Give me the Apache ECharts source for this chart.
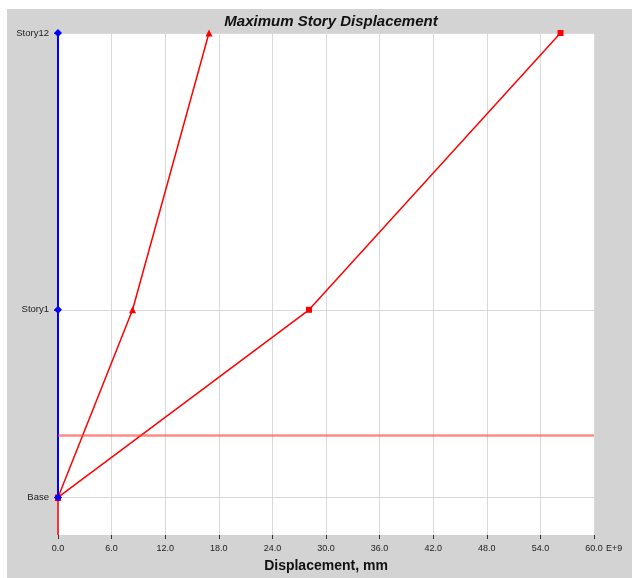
<!DOCTYPE html>
<html>
<head>
<meta charset="utf-8">
<script src="https://cdn.jsdelivr.net/npm/echarts@6/dist/echarts.min.js"></script>
<style>
html,body{margin:0;padding:0;background:#fff;}
#c{width:632px;height:578px;}
</style>
</head>
<body>
<div id="c"></div>
<script>
// Data
var storyNames = ['Base', 'Story1', 'Story12'];
var storyElev = [0, 4.0, 9.9];
var dispBlue = [0, 0, 0];
var dispTriangle = [0, 8.35, 16.9];
var dispSquare = [0, 28.1, 56.25];
var refLineElev = 1.32;
var xTicks = [0, 6, 12, 18, 24, 30, 36, 42, 48, 54, 60];

function pairs(xs) { return xs.map(function (x, i) { return [x, storyElev[i]]; }); }

var FONT = 'Liberation Sans, Arial, sans-serif';
var chart = echarts.init(document.getElementById('c'), null, {renderer: 'canvas'});
chart.setOption({
  animation: false,
  backgroundColor: '#ffffff',
  graphic: [
    {type: 'rect', z: -10, shape: {x: 7, y: 9, width: 625, height: 569}, style: {fill: '#d3d3d3'}},
    {type: 'text', z: 10, left: 606, top: 544, style: {text: 'E+9', font: '9px ' + FONT, fill: '#222'}}
  ],
  title: {
    text: 'Maximum Story Displacement',
    left: 326, top: 9, textAlign: 'center',
    textStyle: {fontFamily: FONT, fontSize: 15, fontWeight: 'bold', fontStyle: 'italic', color: '#111'}
  },
  grid: {left: 58, top: 33, right: 38, bottom: 43, show: true, backgroundColor: '#ffffff', borderWidth: 0,
    outerBoundsMode: 'none', containLabel: false},
  xAxis: {
    type: 'value', min: 0, max: 60, interval: 6,
    name: 'Displacement, mm', nameLocation: 'middle', nameGap: 24,
    nameTextStyle: {fontFamily: FONT, fontSize: 14, fontWeight: 'bold', color: '#111'},
    axisLine: {show: false, onZero: false},
    axisTick: {show: true, length: 4, inside: false, lineStyle: {color: '#333'}},
    axisLabel: {fontFamily: FONT, fontSize: 9, color: '#222', margin: 9,
      formatter: function (v) { return v.toFixed(1); }},
    splitLine: {show: true, lineStyle: {color: '#d9d9d9', width: 1}}
  },
  yAxis: {
    type: 'value', min: -0.8, max: 9.9,
    axisLine: {show: false, onZero: false},
    axisTick: {show: true, length: 4, customValues: storyElev, lineStyle: {color: '#333'}},
    axisLabel: {fontFamily: FONT, fontSize: 9.5, color: '#222', margin: 9, customValues: storyElev,
      formatter: function (v) { var i = storyElev.indexOf(v); return i >= 0 ? storyNames[i] : ''; }},
    splitLine: {show: true, lineStyle: {color: '#d9d9d9', width: 1}}
  },
  series: [
    {
      type: 'line', data: [[0, -0.8], [0, 0]], symbol: 'none',
      lineStyle: {color: '#ff0000', width: 1.5}, z: 2,
      markLine: {
        silent: true, symbol: 'none', label: {show: false},
        lineStyle: {color: 'rgba(255,60,60,0.6)', width: 2.5, type: 'solid'},
        data: [{yAxis: refLineElev}]
      }
    },
    {
      type: 'line', data: pairs(dispTriangle), symbol: 'triangle', symbolSize: 7,
      lineStyle: {color: '#ff0000', width: 1.5}, itemStyle: {color: '#ff0000'}, z: 3
    },
    {
      type: 'line', data: pairs(dispSquare), symbol: 'rect', symbolSize: 6,
      lineStyle: {color: '#ff0000', width: 1.5}, itemStyle: {color: '#ff0000'}, z: 3
    },
    {
      type: 'line', data: pairs(dispBlue), symbol: 'diamond', symbolSize: 8,
      lineStyle: {color: '#0000ff', width: 2}, itemStyle: {color: '#0000ff'}, z: 4
    }
  ]
});
</script>
</body>
</html>
